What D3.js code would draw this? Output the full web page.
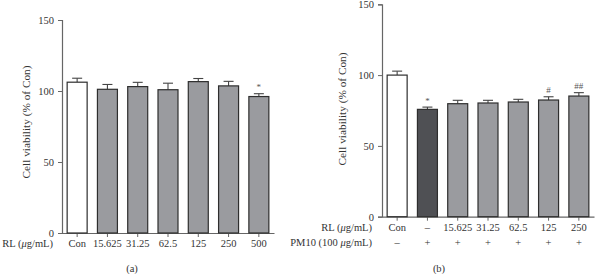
<!DOCTYPE html>
<html><head><meta charset="utf-8">
<script src="https://cdn.jsdelivr.net/npm/d3@7"></script>
<style>body{margin:0;background:#fff}svg{display:block}</style>
</head><body><svg id="c" width="596" height="274" font-family="Liberation Serif"></svg>
<script>
const catsA = ["Con","15.625","31.25","62.5","125","250","500"];
const valsA = [106.2,101.2,103.1,100.9,106.6,103.6,96.1];
const errA  = [2.8,3.4,3.0,4.6,2.2,3.2,2.0];
const marksA = ["","","","","","","*"];
const fillA = ["white","gray","gray","gray","gray","gray","gray"];

const catsB = ["Con","–","15.625","31.25","62.5","125","250"];
const pmB   = ["–","+","+","+","+","+","+"];
const valsB = [100.0,75.8,79.8,80.3,81.0,82.4,85.2];
const errB  = [2.8,1.6,2.4,1.9,1.9,2.3,2.4];
const marksB = ["","*","","","","#","##"];
const fillB = ["white","dark","gray","gray","gray","gray","gray"];

const yTicks = [0,50,100,150];
const colors = {white:"#ffffff", gray:"#9a9b9f", dark:"#4f5054"};
const FF = "Liberation Serif";
const FS = 10.5;

const svg = d3.select("#c");

function panel(o){
  const g = svg.append("g");
  const x = d3.scaleBand().domain(o.cats.map((d,i)=>i)).range([o.x0,o.x1]).paddingInner(0.34).paddingOuter(0.17);
  const y = d3.scaleLinear().domain([0,150]).range([o.y0,o.y1]);
  const ya = g.append("g").attr("transform",`translate(${o.x0},0)`)
    .call(d3.axisLeft(y).tickValues(yTicks).tickSize(4).tickPadding(4));
  ya.attr("font-family",FF).attr("font-size",FS);
  ya.select(".domain").attr("stroke","#666").attr("stroke-width",1.2);
  ya.selectAll(".tick line").attr("stroke","#666");
  ya.selectAll("text").attr("fill","#333");
  const xa = g.append("g").attr("transform",`translate(0,${o.y0})`)
    .call(d3.axisBottom(x).tickFormat(i=>o.cats[i]).tickSize(4).tickPadding(2.5).tickSizeOuter(0));
  xa.attr("font-family",FF).attr("font-size",FS);
  xa.select(".domain").attr("stroke","#666").attr("stroke-width",1.2);
  xa.selectAll(".tick line").attr("stroke","#666");
  xa.selectAll("text").attr("fill","#333");
  const bw = x.bandwidth();
  o.vals.forEach((v,i)=>{
    const cx = x(i)+bw/2;
    g.append("line").attr("x1",cx).attr("x2",cx).attr("y1",y(v)).attr("y2",y(v+o.err[i])).attr("stroke","#444").attr("stroke-width",1.1);
    g.append("line").attr("x1",cx-5).attr("x2",cx+5).attr("y1",y(v+o.err[i])).attr("y2",y(v+o.err[i])).attr("stroke","#444").attr("stroke-width",1.1);
    g.append("rect").attr("x",x(i)).attr("y",y(v)).attr("width",bw).attr("height",o.y0-y(v))
      .attr("fill",colors[o.fill[i]]).attr("stroke","#2e2e2e").attr("stroke-width",1.2);
    if(o.marks[i]) g.append("text").attr("x",cx).attr("y",y(v+o.err[i])-3.5).attr("text-anchor","middle")
      .attr("font-family",FF).attr("font-size",9).attr("fill","#555").text(o.marks[i]);
  });
  g.append("text").attr("transform",`translate(${o.ylx},${o.yly}) rotate(-90)`).attr("text-anchor","middle")
    .attr("font-family",FF).attr("font-size",11.3).attr("fill","#333").text("Cell viability (% of Con)");
  g.append("text").attr("x",o.rlx).attr("y",o.y0+14).attr("text-anchor","end").attr("font-family",FF).attr("font-size",FS).attr("fill","#333")
    .html('RL (<tspan font-style="italic">μ</tspan>g/mL)');
  if(o.pm){
    g.append("text").attr("x",o.rlx).attr("y",o.y0+29.5).attr("text-anchor","end").attr("font-family",FF).attr("font-size",FS).attr("fill","#333")
      .html('PM10 (100 <tspan font-style="italic">μ</tspan>g/mL)');
    o.pm.forEach((p,i)=>{
      g.append("text").attr("x",x(i)+bw/2).attr("y",o.y0+29.5).attr("text-anchor","middle").attr("font-family",FF).attr("font-size",FS).attr("fill","#333").text(p);
    });
  }
  g.append("text").attr("x",o.capx).attr("y",271.5).attr("text-anchor","middle").attr("font-family",FF).attr("font-size",FS).attr("fill","#333").text(o.cap);
}

panel({cats:catsA,vals:valsA,err:errA,marks:marksA,fill:fillA,x0:62,x1:274,y0:233,y1:20,
  ylx:30,yly:122,rlx:53,cap:"(a)",capx:132});
panel({cats:catsB,vals:valsB,err:errB,marks:marksB,fill:fillB,pm:pmB,x0:382,x1:594,y0:216.7,y1:4.3,
  ylx:346,yly:109,rlx:372,cap:"(b)",capx:439});
</script></body></html>
